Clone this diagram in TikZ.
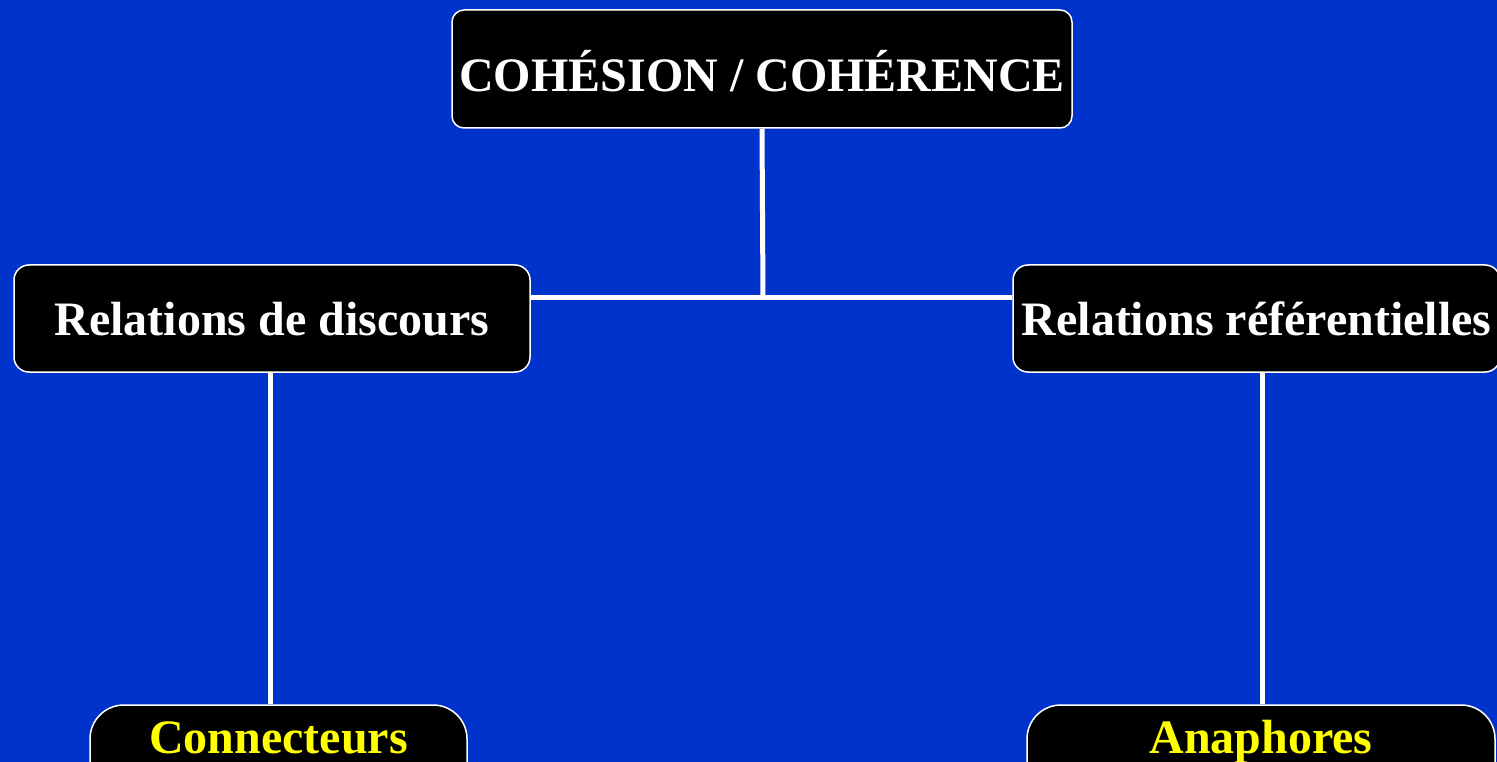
\documentclass[tikz,border=0pt]{standalone}
\usepackage{fontspec}
\setmainfont{Liberation Serif}
\definecolor{bgblue}{RGB}{0,51,204}
\definecolor{txtyellow}{RGB}{255,255,0}
\begin{document}
\begin{tikzpicture}[x=1pt,y=-1pt,
  box/.style={draw=white,line width=1.5pt,fill=black,text=white,inner sep=0pt,
    font=\fontsize{48}{58}\selectfont\bfseries,align=center},
  topbox/.style={box,rounded corners=12pt,minimum width=620pt,minimum height=118pt,text height=46pt,text depth=0pt},
  midbox/.style={box,rounded corners=15pt,minimum height=107pt,text height=33pt,text depth=0pt},
  leafbox/.style={box,rounded corners=34pt,minimum height=96pt,text=txtyellow,text height=18pt,text depth=18pt},
  link/.style={draw=white,line width=5pt}]
\useasboundingbox (0,0) rectangle (1497,762);
\clip (0,0) rectangle (1497,762);
\fill[bgblue] (0,0) rectangle (1497,762);
\node[topbox] (top) at (762,69) {COHÉSION / COHÉRENCE};
\node[midbox,minimum width=516pt] (left) at (272,318.5) {Relations de discours};
\node[midbox,minimum width=487pt] (right) at (1256.5,318.5) {Relations référentielles};
\node[leafbox,minimum width=377pt] (conn) at (278.5,753) {Connecteurs};
\node[leafbox,minimum width=468pt] (ana) at (1261,753) {Anaphores};
\coordinate (j) at (763,297);
\draw[link] (top.south) -- (j);
\draw[link] (left.east |- j) -- (j) -- (right.west |- j);
\draw[link] (left.south -| 270,0) -- (conn.north -| 270,0);
\draw[link] (right.south -| 1262,0) -- (ana.north -| 1262,0);
\end{tikzpicture}
\end{document}
